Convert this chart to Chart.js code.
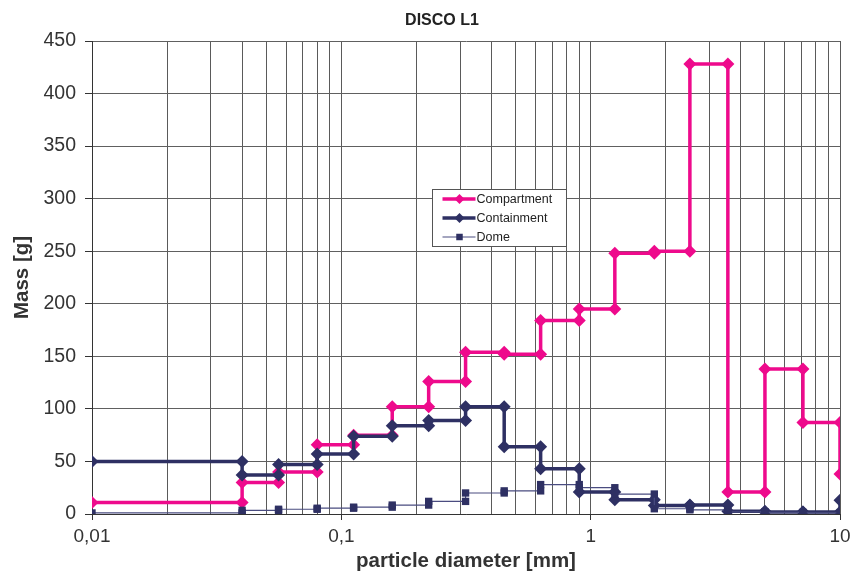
<!DOCTYPE html>
<html>
<head>
<meta charset="utf-8">
<title>DISCO L1</title>
<script src="https://cdn.jsdelivr.net/npm/chart.js@4.4.1/dist/chart.umd.min.js"></script>
<style>
  html, body { margin: 0; padding: 0; background: #ffffff; }
  #wrap { width: 850px; height: 575px; position: relative; }
</style>
</head>
<body>
<div id="wrap"><canvas id="chart" width="850" height="575"></canvas></div>
<script>
// Sieve class boundaries [mm]
const binEdges = [0.01, 0.04, 0.056, 0.08, 0.112, 0.16, 0.224, 0.315, 0.45, 0.63, 0.9, 1.25, 1.8, 2.5, 3.55, 5, 7.1, 10];

// Mass per size class [g]; the *End value is the last point at the upper boundary
const compartment    = [11, 30, 40, 66, 75, 102, 126, 154, 152, 184, 195, 248, 250, 428, 21, 138, 87];
const compartmentEnd = 38;
const containment    = [50, 37, 47, 57, 74, 84, 89, 102, 64, 43, 21, 13.5, 8, 8.5, 2.5, 2, 2];
const containmentEnd = 13;
const dome           = [1, 3.5, 4.5, 5.5, 6.5, 8.5, 12, 20, 22, 28, 25, 19, 5, 4, 2, 1.5, 1];

const seriesNames = ['Compartment', 'Containment', 'Dome'];

// Axis ticks
const decadeTicks  = [0.01, 0.1, 1, 10];
const decadeLabels = ['0,01', '0,1', '1', '10'];
const yMax = 450, yGridStep = 25, yLabelStep = 50;

const PINK = '#EE0A8C';
const NAVY = '#2E3063';
const FONT = '"Liberation Sans", Arial, sans-serif';

// Turn class values into a step outline: (lower, v), (upper, v) per class
function stepPoints(values, endValue) {
  const pts = [];
  values.forEach((v, i) => {
    pts.push({ x: binEdges[i], y: v });
    pts.push({ x: binEdges[i + 1], y: v });
  });
  if (endValue !== undefined) pts.push({ x: binEdges[binEdges.length - 1], y: endValue });
  return pts;
}

// 1..9 x 10^n grid values between the decades
const logGrid = [];
for (let d = 0; d < decadeTicks.length; d++) {
  const base = decadeTicks[d];
  const last = d === decadeTicks.length - 1 ? 1 : 9;
  for (let m = 1; m <= last; m++) logGrid.push(Number((m * base).toPrecision(6)));
}
function decadeIndex(v) {
  return decadeTicks.findIndex(t => Math.abs(v - t) / t < 1e-6);
}

// Title drawn slightly left of the plot centre
const titlePlugin = {
  id: 'chartTitle',
  afterDraw(chart) {
    const ctx = chart.ctx;
    ctx.save();
    ctx.font = 'bold 16px ' + FONT;
    ctx.fillStyle = '#222';
    ctx.textAlign = 'center';
    ctx.textBaseline = 'middle';
    ctx.fillText('DISCO L1', 442, 21);
    ctx.restore();
  }
};

// Boxed legend inside the plot area
const legendPlugin = {
  id: 'boxLegend',
  afterDraw(chart) {
    const ctx = chart.ctx;
    const box = { x: 432.5, y: 189.5, w: 134, h: 57 };
    ctx.save();
    ctx.fillStyle = '#ffffff';
    ctx.fillRect(box.x, box.y, box.w, box.h);
    ctx.strokeStyle = '#555';
    ctx.lineWidth = 1;
    ctx.strokeRect(box.x, box.y, box.w, box.h);
    chart.data.datasets.forEach((ds, i) => {
      const y = box.y + 9.5 + i * 19;
      ctx.strokeStyle = ds.borderColor;
      ctx.lineWidth = ds.borderWidth;
      ctx.beginPath();
      ctx.moveTo(box.x + 10, y);
      ctx.lineTo(box.x + 43, y);
      ctx.stroke();
      ctx.fillStyle = ds.pointBackgroundColor;
      Chart.helpers.drawPoint(ctx, { pointStyle: ds.pointStyle, radius: ds.legendRadius, borderWidth: 0 }, box.x + 27, y);
      ctx.fillStyle = '#222';
      ctx.font = '12.5px ' + FONT;
      ctx.textAlign = 'left';
      ctx.textBaseline = 'middle';
      ctx.fillText(ds.label, box.x + 44, y + 0.5);
    });
    ctx.restore();
  }
};

new Chart(document.getElementById('chart'), {
  type: 'scatter',
  data: {
    datasets: [
      {
        label: seriesNames[0],
        data: stepPoints(compartment, compartmentEnd),
        showLine: true,
        borderColor: PINK, backgroundColor: PINK,
        pointBackgroundColor: PINK, pointBorderColor: PINK,
        borderWidth: 3.5, pointStyle: 'rectRot', pointRadius: 6.5, pointBorderWidth: 0,
        legendRadius: 5, order: 3
      },
      {
        label: seriesNames[1],
        data: stepPoints(containment, containmentEnd),
        showLine: true,
        borderColor: NAVY, backgroundColor: NAVY,
        pointBackgroundColor: NAVY, pointBorderColor: NAVY,
        borderWidth: 3.5, pointStyle: 'rectRot', pointRadius: 6.5, pointBorderWidth: 0,
        legendRadius: 5, order: 2
      },
      {
        label: seriesNames[2],
        data: stepPoints(dome),
        showLine: true,
        borderColor: '#4A4C80', backgroundColor: NAVY,
        pointBackgroundColor: NAVY, pointBorderColor: NAVY,
        borderWidth: 1.2, pointStyle: 'rect', pointRadius: 5.2, pointBorderWidth: 0,
        legendRadius: 4.6, order: 1
      }
    ]
  },
  options: {
    responsive: false,
    animation: false,
    events: [],
    layout: { padding: { left: 0, right: 10, top: 41, bottom: 0 } },
    plugins: { legend: { display: false }, tooltip: { enabled: false }, title: { display: false } },
    elements: { line: { tension: 0 } },
    scales: {
      x: {
        type: 'logarithmic',
        min: 0.01, max: 10,
        afterBuildTicks(scale) {
          scale.ticks = logGrid.map(v => ({ value: v, major: decadeIndex(v) >= 0 }));
        },
        afterFit(scale) {
          scale.height = 61;
          scale.paddingLeft = 0;
          scale.paddingRight = 0;
        },
        ticks: {
          autoSkip: false, maxRotation: 0, minRotation: 0,
          padding: 5,
          color: '#333',
          font: { family: FONT, size: 19 },
          callback(value) {
            const i = decadeIndex(value);
            return i >= 0 ? decadeLabels[i] : '';
          }
        },
        grid: {
          color: '#5a5a5a', lineWidth: 1, drawTicks: true, tickLength: 6,
          tickColor: ctx => (ctx.tick && decadeIndex(ctx.tick.value) >= 0 ? '#333' : 'rgba(0,0,0,0)')
        },
        border: { color: '#333', width: 1 },
        title: {
          display: true, text: 'particle diameter [mm]',
          color: '#333', font: { family: FONT, size: 20.5, weight: 'bold' },
          padding: { top: 0, bottom: 1 }
        }
      },
      y: {
        min: 0, max: yMax,
        afterFit(scale) { scale.width = 92; },
        ticks: {
          stepSize: yGridStep,
          padding: 9,
          color: '#333',
          font: { family: FONT, size: 19.5 },
          callback(value) { return value % yLabelStep === 0 ? String(value) : ''; }
        },
        grid: {
          color: '#606060', lineWidth: 1, drawTicks: true, tickLength: 7,
          tickColor: ctx => (ctx.tick && ctx.tick.value % yLabelStep === 0 ? '#333' : 'rgba(0,0,0,0)')
        },
        border: { color: '#333', width: 1 },
        title: {
          display: true, text: 'Mass [g]',
          color: '#333', font: { family: FONT, size: 20.5, weight: 'bold' },
          padding: { top: 10, bottom: 0 }
        }
      }
    }
  },
  plugins: [titlePlugin, legendPlugin]
});
</script>
</body>
</html>
